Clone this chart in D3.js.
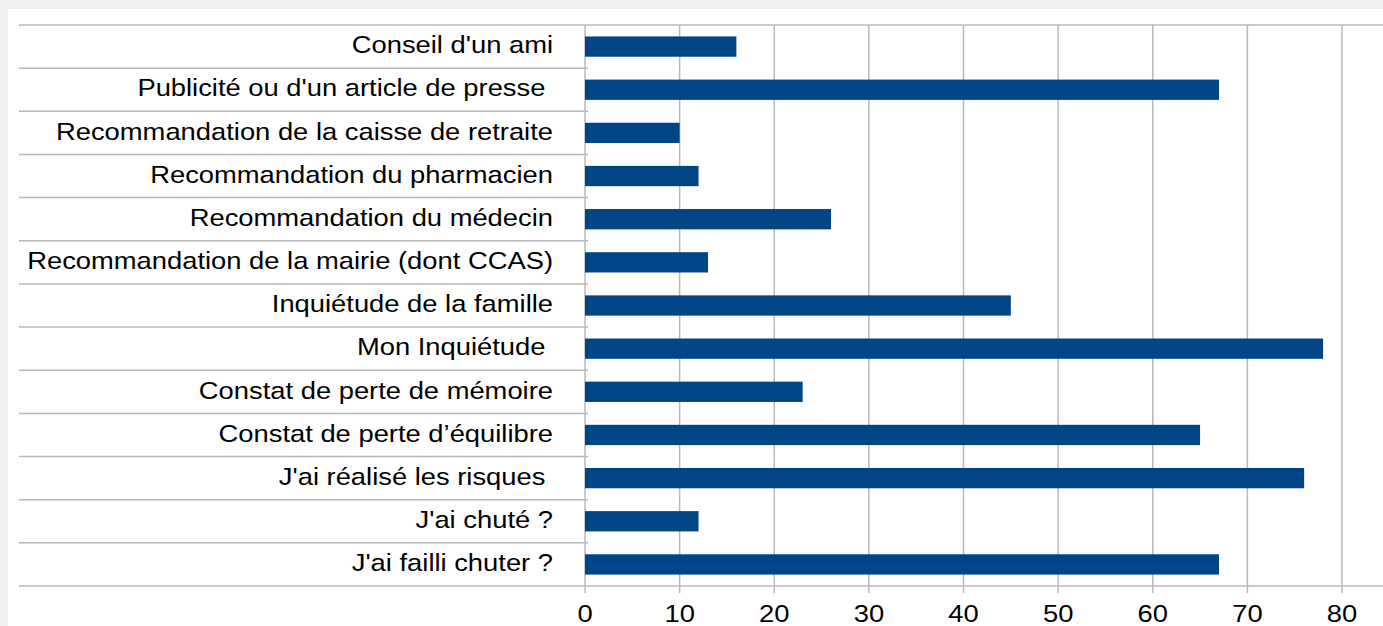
<!DOCTYPE html>
<html>
<head>
<meta charset="utf-8">
<script src="https://cdn.jsdelivr.net/npm/d3@7"></script>
<style>
  html, body { margin: 0; padding: 0; background: #efefef; overflow: hidden; }
  text { font-family: "Liberation Sans", Arial, sans-serif; white-space: pre; }
</style>
</head>
<body>
<div id="chart"></div>
<script>
// categories, top to bottom
const categories = [
  "Conseil d'un ami",
  "Publicité ou d'un article de presse ",
  "Recommandation de la caisse de retraite",
  "Recommandation du pharmacien",
  "Recommandation du médecin",
  "Recommandation de la mairie (dont CCAS)",
  "Inquiétude de la famille",
  "Mon Inquiétude ",
  "Constat de perte de mémoire",
  "Constat de perte d\u2019équilibre",
  "J'ai réalisé les risques ",
  "J'ai chuté ?",
  "J'ai failli chuter ?"
]
const values = [16, 67, 10, 12, 26, 13, 45, 78, 23, 65, 76, 12, 67]
const ticks = [0, 10, 20, 30, 40, 50, 60, 70, 80]

const W = 1383, H = 626
const m = { top: 25, left: 585, bottom: 40 }
const labelLineStart = 19
const stretch = 1.14   // the source text is a little wider than it is tall

const svg = d3.select("#chart")
  .append("svg")
  .attr("width", W)
  .attr("height", H)

// white panel
svg.append("rect")
  .attr("x", 8).attr("y", 9)
  .attr("width", W - 8).attr("height", H - 9)
  .attr("fill", "#ffffff")

const x = d3.scaleLinear()
  .domain([0, 80])
  .range([m.left, 1342])

const y = d3.scaleBand()
  .domain(categories)
  .range([m.top, 586])
  .paddingInner(0.53)
  .paddingOuter(0.265)

const grid = "#b9b9b9"

// vertical gridlines
svg.append("g")
  .selectAll("line")
  .data(ticks)
  .join("line")
  .attr("x1", d => x(d)).attr("x2", d => x(d))
  .attr("y1", m.top).attr("y2", 593)
  .attr("stroke", grid)
  .attr("stroke-width", 1.5)

// category separators (label area)
const bounds = d3.range(categories.length + 1).map(i => m.top + i * y.step())
svg.append("g")
  .selectAll("line")
  .data(bounds)
  .join("line")
  .attr("x1", labelLineStart)
  .attr("x2", (d, i) => (i === 0 || i === categories.length) ? W : m.left + 3)
  .attr("y1", d => d).attr("y2", d => d)
  .attr("stroke", grid)
  .attr("stroke-width", 1.5)

// bars
svg.append("g")
  .selectAll("rect")
  .data(values)
  .join("rect")
  .attr("x", x(0))
  .attr("y", (d, i) => y(categories[i]))
  .attr("width", d => x(d) - x(0))
  .attr("height", y.bandwidth())
  .attr("fill", "#004586")

// category labels
svg.append("g")
  .selectAll("text")
  .data(categories)
  .join("text")
  .attr("transform", d => `translate(553,${y(d) + y.bandwidth() / 2}) scale(${stretch},1)`)
  .attr("dy", "0.28em")
  .attr("text-anchor", "end")
  .attr("font-size", 24)
  .attr("fill", "#000")
  .text(d => d)

// x tick labels
svg.append("g")
  .selectAll("text")
  .data(ticks)
  .join("text")
  .attr("transform", d => `translate(${x(d)},622) scale(${stretch},1)`)
  .attr("text-anchor", "middle")
  .attr("font-size", 24)
  .attr("fill", "#000")
  .text(d => d)
</script>
</body>
</html>
